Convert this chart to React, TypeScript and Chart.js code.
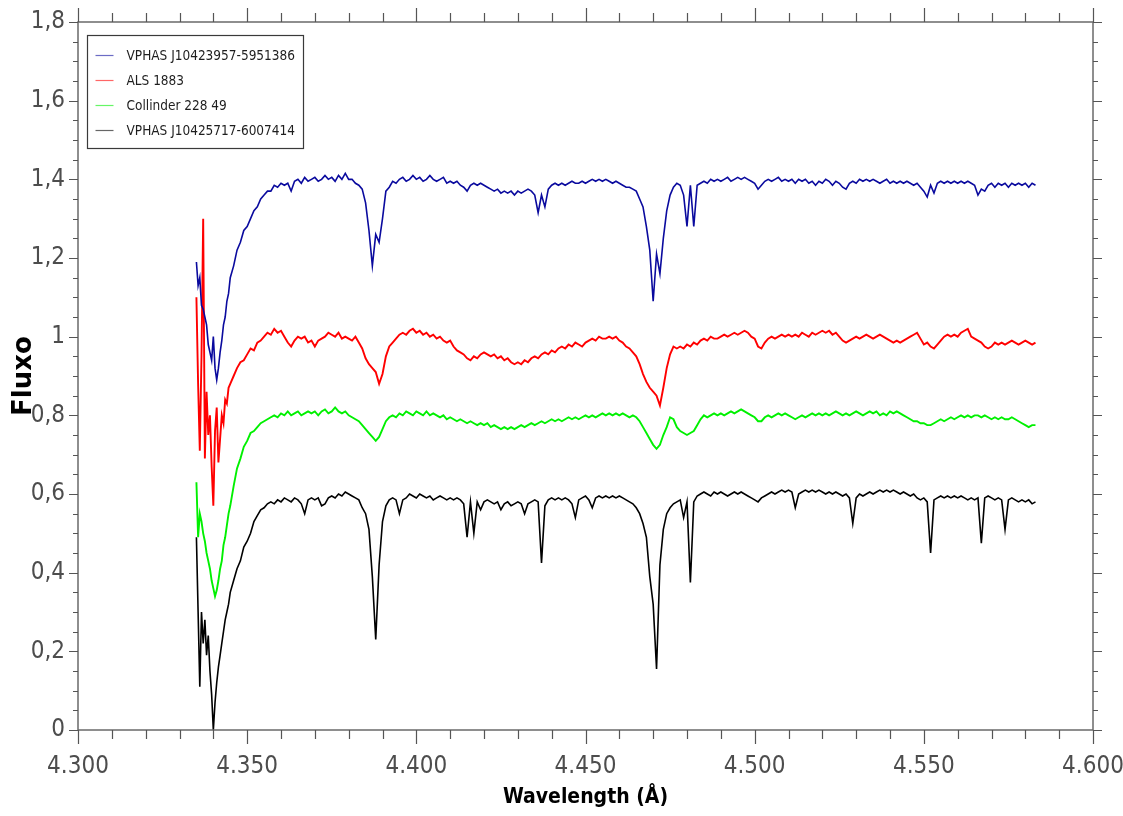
import React, { useEffect, useRef } from "react";
import { Chart, registerables } from "chart.js";

Chart.register(...registerables);

// Wavelength grid (Å): half-Å steps across the Hγ core, then 1 Å steps
const WAVELENGTHS = [
  4335, 4335.5, 4336, 4336.5, 4337, 4337.5, 4338, 4338.5, 4339, 4339.5, 4340, 4340.5, 4341, 4341.5, 4342, 4342.5, 4343, 4343.5, 4344, 4344.5, 4345,
  4346, 4347, 4348, 4349, 4350, 4351, 4352, 4353, 4354, 4355,
  4356, 4357, 4358, 4359, 4360, 4361, 4362, 4363, 4364, 4365,
  4366, 4367, 4368, 4369, 4370, 4371, 4372, 4373, 4374, 4375,
  4376, 4377, 4378, 4379, 4380, 4381, 4382, 4383, 4384, 4385,
  4386, 4387, 4388, 4389, 4390, 4391, 4392, 4393, 4394, 4395,
  4396, 4397, 4398, 4399, 4400, 4401, 4402, 4403, 4404, 4405,
  4406, 4407, 4408, 4409, 4410, 4411, 4412, 4413, 4414, 4415,
  4416, 4417, 4418, 4419, 4420, 4421, 4422, 4423, 4424, 4425,
  4426, 4427, 4428, 4429, 4430, 4431, 4432, 4433, 4434, 4435,
  4436, 4437, 4438, 4439, 4440, 4441, 4442, 4443, 4444, 4445,
  4446, 4447, 4448, 4449, 4450, 4451, 4452, 4453, 4454, 4455,
  4456, 4457, 4458, 4459, 4460, 4461, 4462, 4463, 4464, 4465,
  4466, 4467, 4468, 4469, 4470, 4471, 4472, 4473, 4474, 4475,
  4476, 4477, 4478, 4479, 4480, 4481, 4482, 4483, 4484, 4485,
  4486, 4487, 4488, 4489, 4490, 4491, 4492, 4493, 4494, 4495,
  4496, 4497, 4498, 4499, 4500, 4501, 4502, 4503, 4504, 4505,
  4506, 4507, 4508, 4509, 4510, 4511, 4512, 4513, 4514, 4515,
  4516, 4517, 4518, 4519, 4520, 4521, 4522, 4523, 4524, 4525,
  4526, 4527, 4528, 4529, 4530, 4531, 4532, 4533, 4534, 4535,
  4536, 4537, 4538, 4539, 4540, 4541, 4542, 4543, 4544, 4545,
  4546, 4547, 4548, 4549, 4550, 4551, 4552, 4553, 4554, 4555,
  4556, 4557, 4558, 4559, 4560, 4561, 4562, 4563, 4564, 4565,
  4566, 4567, 4568, 4569, 4570, 4571, 4572, 4573, 4574, 4575,
  4576, 4577, 4578, 4579, 4580, 4581, 4582, 4583,
];

const FLUX_VPHAS_5951386 = [
  1.19, 1.13, 1.15, 1.08, 1.07, 1.05, 1.03, 0.98, 0.96, 0.94, 1.0, 0.92, 0.89, 0.92, 0.96, 0.99, 1.03, 1.05, 1.09, 1.11, 1.15,
  1.18, 1.22, 1.24, 1.27, 1.28, 1.3, 1.32, 1.33, 1.35, 1.36,
  1.37, 1.37, 1.385, 1.38, 1.39, 1.385, 1.39, 1.37, 1.395, 1.4,
  1.39, 1.405, 1.395, 1.4, 1.405, 1.395, 1.4, 1.41, 1.4, 1.405,
  1.395, 1.41, 1.4, 1.415, 1.4, 1.4, 1.39, 1.385, 1.375, 1.34,
  1.27, 1.18, 1.26, 1.24, 1.3, 1.37, 1.38, 1.395, 1.39, 1.4,
  1.405, 1.395, 1.4, 1.41, 1.4, 1.405, 1.395, 1.4, 1.41, 1.4,
  1.395, 1.4, 1.405, 1.39, 1.395, 1.39, 1.395, 1.385, 1.38, 1.37,
  1.385, 1.39, 1.385, 1.39, 1.385, 1.38, 1.375, 1.37, 1.375, 1.365,
  1.37, 1.365, 1.37, 1.36, 1.37, 1.365, 1.37, 1.375, 1.37, 1.36,
  1.315, 1.36, 1.33, 1.375, 1.385, 1.39, 1.385, 1.39, 1.385, 1.39,
  1.395, 1.39, 1.39, 1.395, 1.39, 1.395, 1.4, 1.395, 1.4, 1.395,
  1.4, 1.395, 1.39, 1.395, 1.39, 1.385, 1.38, 1.38, 1.375, 1.37,
  1.35, 1.33, 1.28, 1.22, 1.09, 1.21, 1.16, 1.25, 1.32, 1.36,
  1.38, 1.39, 1.385, 1.36, 1.28, 1.385, 1.28, 1.385, 1.39, 1.395,
  1.39, 1.4, 1.395, 1.4, 1.395, 1.4, 1.405, 1.395, 1.4, 1.405,
  1.4, 1.405, 1.4, 1.395, 1.39, 1.375, 1.385, 1.395, 1.4, 1.395,
  1.4, 1.405, 1.395, 1.4, 1.395, 1.4, 1.39, 1.4, 1.395, 1.4,
  1.39, 1.395, 1.385, 1.395, 1.39, 1.4, 1.395, 1.385, 1.395, 1.39,
  1.38, 1.375, 1.39, 1.395, 1.39, 1.4, 1.395, 1.4, 1.395, 1.4,
  1.395, 1.39, 1.395, 1.4, 1.39, 1.395, 1.39, 1.395, 1.39, 1.395,
  1.39, 1.385, 1.39, 1.38, 1.37, 1.355, 1.385, 1.365, 1.39, 1.395,
  1.39, 1.395, 1.39, 1.395, 1.39, 1.395, 1.39, 1.395, 1.39, 1.385,
  1.36, 1.375, 1.37, 1.385, 1.39, 1.38, 1.39, 1.385, 1.39, 1.38,
  1.39, 1.385, 1.39, 1.385, 1.39, 1.38, 1.39, 1.385,
];

const FLUX_ALS_1883 = [
  1.1, 0.88, 0.71, 0.95, 1.3, 0.69, 0.86, 0.75, 0.8, 0.67, 0.57, 0.76, 0.82, 0.68, 0.74, 0.8, 0.78, 0.84, 0.83, 0.87, 0.88,
  0.9, 0.92, 0.935, 0.94, 0.955, 0.97, 0.965, 0.985, 0.99, 1.0,
  1.01, 1.005, 1.02, 1.01, 1.015, 1.0, 0.985, 0.975, 0.99, 1.0,
  0.995, 1.0, 0.985, 0.99, 0.975, 0.99, 0.995, 1.0, 1.01, 1.005,
  1.0, 1.01, 0.995, 1.0, 0.995, 0.99, 1.0, 0.985, 0.97, 0.945,
  0.93, 0.92, 0.91, 0.88, 0.905, 0.95, 0.975, 0.985, 0.995, 1.005,
  1.01, 1.005, 1.015, 1.02, 1.01, 1.015, 1.005, 1.01, 1.0, 1.005,
  0.995, 1.0, 0.99, 0.985, 0.99, 0.975, 0.965, 0.96, 0.955, 0.945,
  0.94, 0.95, 0.945, 0.955, 0.96, 0.955, 0.95, 0.955, 0.945, 0.95,
  0.94, 0.945, 0.935, 0.93, 0.935, 0.93, 0.94, 0.935, 0.945, 0.95,
  0.945, 0.955, 0.96, 0.955, 0.965, 0.96, 0.97, 0.975, 0.97, 0.98,
  0.975, 0.985, 0.98, 0.975, 0.985, 0.99, 0.995, 0.99, 1.0, 0.995,
  0.995, 1.0, 0.995, 1.0, 0.99, 0.985, 0.975, 0.97, 0.96, 0.95,
  0.93, 0.905, 0.885, 0.87, 0.86, 0.85, 0.825, 0.87, 0.92, 0.955,
  0.975, 0.97, 0.975, 0.97, 0.98, 0.975, 0.985, 0.98, 0.99, 0.995,
  0.99, 1.0, 0.995, 0.995, 1.0, 1.005, 1.0, 1.005, 1.01, 1.005,
  1.01, 1.015, 1.01, 1.0, 0.995, 0.975, 0.97, 0.985, 0.995, 1.0,
  0.995, 1.0, 1.005, 1.0, 1.005, 1.0, 1.005, 1.0, 1.01, 1.005,
  1.0, 1.01, 1.005, 1.01, 1.015, 1.01, 1.015, 1.005, 1.01, 1.0,
  0.99, 0.985, 0.99, 0.995, 1.0, 0.995, 1.0, 1.005, 1.0, 0.995,
  1.0, 1.005, 1.0, 0.995, 0.99, 0.985, 0.99, 0.985, 0.99, 0.995,
  1.0, 1.005, 1.01, 0.995, 0.98, 0.985, 0.975, 0.97, 0.98, 0.99,
  1.0, 1.005, 1.0, 1.005, 1.0, 1.01, 1.015, 1.02, 1.0, 0.995,
  0.99, 0.985, 0.975, 0.97, 0.975, 0.985, 0.98, 0.985, 0.98, 0.985,
  0.99, 0.985, 0.98, 0.985, 0.99, 0.985, 0.98, 0.985,
];

const FLUX_COLLINDER_228_49 = [
  0.63, 0.49, 0.55, 0.53, 0.5, 0.48, 0.45, 0.43, 0.41, 0.38, 0.36, 0.34, 0.355, 0.38, 0.41, 0.43, 0.47, 0.49, 0.52, 0.55, 0.57,
  0.62, 0.665, 0.69, 0.72, 0.735, 0.755, 0.76, 0.77, 0.78, 0.785,
  0.79, 0.795, 0.8, 0.795, 0.805, 0.8, 0.81, 0.8, 0.805, 0.81,
  0.8, 0.805, 0.81, 0.805, 0.81, 0.8, 0.81, 0.815, 0.805, 0.81,
  0.82, 0.81, 0.805, 0.81, 0.8, 0.795, 0.79, 0.785, 0.775, 0.765,
  0.755, 0.745, 0.735, 0.745, 0.765, 0.785, 0.795, 0.8, 0.795, 0.805,
  0.8, 0.81, 0.805, 0.8, 0.81, 0.805, 0.8, 0.81, 0.8, 0.805,
  0.8, 0.795, 0.8, 0.79, 0.795, 0.79, 0.785, 0.79, 0.785, 0.78,
  0.785, 0.78, 0.775, 0.78, 0.775, 0.78, 0.77, 0.775, 0.77, 0.765,
  0.77, 0.765, 0.77, 0.765, 0.77, 0.775, 0.77, 0.775, 0.78, 0.775,
  0.78, 0.785, 0.78, 0.785, 0.79, 0.785, 0.79, 0.785, 0.79, 0.795,
  0.79, 0.795, 0.79, 0.795, 0.8, 0.795, 0.8, 0.795, 0.8, 0.805,
  0.8, 0.805, 0.8, 0.805, 0.8, 0.805, 0.8, 0.795, 0.8, 0.795,
  0.785, 0.77, 0.755, 0.74, 0.725, 0.715, 0.725, 0.75, 0.77, 0.795,
  0.79, 0.77, 0.76, 0.755, 0.75, 0.755, 0.76, 0.775, 0.79, 0.8,
  0.795, 0.8, 0.805, 0.8, 0.805, 0.8, 0.805, 0.81, 0.805, 0.81,
  0.815, 0.81, 0.805, 0.8, 0.795, 0.785, 0.785, 0.795, 0.8, 0.795,
  0.8, 0.805, 0.8, 0.805, 0.8, 0.795, 0.79, 0.795, 0.8, 0.795,
  0.8, 0.805, 0.8, 0.805, 0.8, 0.805, 0.8, 0.805, 0.81, 0.805,
  0.8, 0.805, 0.8, 0.805, 0.81, 0.805, 0.8, 0.805, 0.81, 0.805,
  0.81, 0.8, 0.805, 0.8, 0.81, 0.805, 0.81, 0.805, 0.8, 0.795,
  0.79, 0.785, 0.785, 0.78, 0.78, 0.775, 0.775, 0.78, 0.785, 0.79,
  0.785, 0.79, 0.795, 0.79, 0.795, 0.8, 0.795, 0.8, 0.795, 0.8,
  0.8, 0.795, 0.8, 0.795, 0.79, 0.795, 0.79, 0.795, 0.79, 0.79,
  0.795, 0.79, 0.785, 0.78, 0.775, 0.77, 0.775, 0.775,
];

const FLUX_VPHAS_6007414 = [
  0.49, 0.3, 0.11, 0.3, 0.22, 0.28, 0.19, 0.24, 0.15, 0.09, 0.0, 0.07, 0.12, 0.16, 0.19, 0.22, 0.25, 0.28, 0.3, 0.32, 0.35,
  0.38, 0.41, 0.43, 0.465, 0.48, 0.5, 0.53, 0.545, 0.56, 0.565,
  0.575, 0.58, 0.575, 0.585, 0.58, 0.59, 0.585, 0.58, 0.59, 0.585,
  0.575, 0.55, 0.585, 0.59, 0.585, 0.59, 0.57, 0.575, 0.59, 0.595,
  0.59, 0.6, 0.595, 0.605, 0.6, 0.595, 0.59, 0.585, 0.565, 0.55,
  0.51, 0.39, 0.23, 0.42, 0.53, 0.57, 0.585, 0.59, 0.585, 0.55,
  0.585, 0.59, 0.6, 0.595, 0.59, 0.6, 0.595, 0.59, 0.595, 0.585,
  0.59, 0.595, 0.59, 0.585, 0.59, 0.585, 0.59, 0.585, 0.575, 0.49,
  0.58, 0.5, 0.58, 0.56, 0.58, 0.585, 0.58, 0.575, 0.58, 0.56,
  0.575, 0.58, 0.57, 0.575, 0.58, 0.575, 0.55, 0.575, 0.58, 0.585,
  0.58, 0.425, 0.57, 0.585, 0.59, 0.585, 0.59, 0.585, 0.59, 0.585,
  0.575, 0.54, 0.585, 0.59, 0.595, 0.585, 0.565, 0.59, 0.595, 0.59,
  0.595, 0.59, 0.595, 0.59, 0.595, 0.59, 0.585, 0.58, 0.575, 0.565,
  0.55, 0.525, 0.49, 0.39, 0.32, 0.155, 0.42, 0.51, 0.55, 0.565,
  0.575, 0.58, 0.585, 0.54, 0.58, 0.375, 0.58, 0.595, 0.6, 0.605,
  0.6, 0.595, 0.605, 0.6, 0.605, 0.6, 0.595, 0.6, 0.605, 0.6,
  0.605, 0.6, 0.595, 0.59, 0.585, 0.58, 0.59, 0.595, 0.6, 0.605,
  0.6, 0.605, 0.61, 0.605, 0.61, 0.605, 0.565, 0.6, 0.605, 0.61,
  0.605, 0.61, 0.605, 0.61, 0.605, 0.6, 0.605, 0.6, 0.605, 0.6,
  0.595, 0.6, 0.59, 0.525, 0.59, 0.6, 0.595, 0.6, 0.605, 0.6,
  0.605, 0.61, 0.605, 0.61, 0.605, 0.61, 0.605, 0.6, 0.605, 0.6,
  0.595, 0.6, 0.59, 0.585, 0.59, 0.58, 0.45, 0.585, 0.59, 0.595,
  0.59, 0.595, 0.59, 0.595, 0.59, 0.595, 0.59, 0.585, 0.59, 0.585,
  0.59, 0.475, 0.59, 0.595, 0.59, 0.585, 0.59, 0.585, 0.51, 0.585,
  0.59, 0.585, 0.58, 0.585, 0.58, 0.585, 0.575, 0.58,
];

const SERIES_LABELS = [
  "VPHAS J10423957-5951386",
  "ALS 1883",
  "Collinder 228 49",
  "VPHAS J10425717-6007414",
];
const SERIES_COLORS = ["#0a0a9e", "#ff0000", "#00f000", "#000000"];
const SERIES_WIDTHS = [1.6, 1.9, 1.9, 1.6];
const SERIES_VALUES = [
  FLUX_VPHAS_5951386,
  FLUX_ALS_1883,
  FLUX_COLLINDER_228_49,
  FLUX_VPHAS_6007414,
];

const X_MIN = 4300;
const X_MAX = 4600;
const Y_MIN = 0;
const Y_MAX = 1.8;

const NARROW = "'Liberation Sans Narrow', 'DejaVu Sans Condensed', 'Liberation Sans', Roboto, sans-serif";

const framePlugin = {
  id: "frameTicks",
  afterDraw(chart: any) {
    const { ctx, chartArea: a, scales } = chart;
    const xs = scales.x;
    const ys = scales.y;
    ctx.save();
    ctx.strokeStyle = "#6a6a6a";
    ctx.lineWidth = 1.5;
    ctx.strokeRect(a.left, a.top, a.right - a.left, a.bottom - a.top);
    ctx.lineWidth = 1.2;
    ctx.strokeStyle = "#555";
    ctx.beginPath();
    for (let v = X_MIN; v <= X_MAX; v += 10) {
      const px = Math.round(xs.getPixelForValue(v)) + 0.5;
      const major = v % 50 === 0;
      const len = major ? 14 : 9;
      ctx.moveTo(px, a.bottom);
      ctx.lineTo(px, a.bottom + len);
      ctx.moveTo(px, a.top);
      ctx.lineTo(px, a.top - len);
    }
    for (let i = 0; i <= 36; i++) {
      const v = i * 0.05;
      const py = Math.round(ys.getPixelForValue(v)) + 0.5;
      const major = i % 4 === 0;
      const len = major ? 9 : 5;
      ctx.moveTo(a.left, py);
      ctx.lineTo(a.left - len, py);
      ctx.moveTo(a.right, py);
      ctx.lineTo(a.right + len, py);
    }
    ctx.stroke();
    ctx.restore();
  },
};

const legendPlugin = {
  id: "insideLegend",
  afterDraw(chart: any) {
    const { ctx, chartArea: a } = chart;
    const x0 = Math.round(a.left + 9) + 0.5;
    const y0 = Math.round(a.top + 13) + 0.5;
    const w = 216;
    const h = 113;
    ctx.save();
    ctx.fillStyle = "#ffffff";
    ctx.fillRect(x0, y0, w, h);
    ctx.strokeStyle = "#3a3a3a";
    ctx.lineWidth = 1.2;
    ctx.strokeRect(x0, y0, w, h);
    chart.data.datasets.forEach((ds: any, i: number) => {
      const yy = Math.round(y0 + 19 + i * 25.3) + 0.5;
      ctx.globalAlpha = 0.6;
      ctx.strokeStyle = ds.borderColor;
      ctx.lineWidth = 1.2;
      ctx.beginPath();
      ctx.moveTo(x0 + 8, yy);
      ctx.lineTo(x0 + 26, yy);
      ctx.stroke();
      ctx.globalAlpha = 1;
      ctx.fillStyle = "#1e1e1e";
      ctx.font = `13.5px ${NARROW}`;
      ctx.textBaseline = "middle";
      ctx.textAlign = "left";
      ctx.fillText(ds.label, x0 + 39, yy + 1);
    });
    ctx.restore();
  },
};

function formatX(v: number): string {
  const th = Math.floor(v / 1000);
  const rest = String(Math.round(v % 1000)).padStart(3, "0");
  return `${th}.${rest}`;
}

function formatY(v: number): string {
  const r = Math.round(v * 10) / 10;
  return String(r).replace(".", ",");
}

export default function App() {
  const canvasRef = useRef<HTMLCanvasElement | null>(null);

  useEffect(() => {
    if (!canvasRef.current) return;
    const datasets = SERIES_VALUES.map((vals, si) => ({
      label: SERIES_LABELS[si],
      data: WAVELENGTHS.map((w, i) => ({ x: w, y: vals[i] })),
      borderColor: SERIES_COLORS[si],
      backgroundColor: SERIES_COLORS[si],
      borderWidth: SERIES_WIDTHS[si],
      pointRadius: 0,
      tension: 0,
      fill: false,
    }));

    const chart = new Chart(canvasRef.current, {
      type: "line",
      data: { datasets },
      plugins: [framePlugin, legendPlugin],
      options: {
        animation: false,
        responsive: true,
        maintainAspectRatio: false,
        devicePixelRatio: 1,
        layout: { padding: { top: 22, right: 30, left: 0, bottom: 0 } },
        plugins: {
          legend: { display: false },
          tooltip: { enabled: false },
        },
        scales: {
          x: {
            type: "linear",
            min: X_MIN,
            max: X_MAX,
            grid: { display: false, drawTicks: false, tickLength: 0 },
            border: { display: false },
            ticks: {
              stepSize: 50,
              padding: 22,
              autoSkip: false,
              maxRotation: 0,
              color: "#4d4d4d",
              font: { family: NARROW, size: 24 },
              callback: (v: any) => formatX(Number(v)),
            },
            title: {
              display: true,
              text: "Wavelength (Å)",
              color: "#000",
              font: { family: NARROW, size: 21, weight: "bold" },
              padding: { top: 0, bottom: 6 },
            },
            afterFit: (s: any) => {
              s.height = 86;
              s.paddingLeft = 0;
              s.paddingRight = 0;
            },
          },
          y: {
            type: "linear",
            min: Y_MIN,
            max: Y_MAX,
            grid: { display: false, drawTicks: false, tickLength: 0 },
            border: { display: false },
            ticks: {
              stepSize: 0.2,
              padding: 13,
              color: "#4d4d4d",
              font: { family: NARROW, size: 24 },
              callback: (v: any) => formatY(Number(v)),
            },
            title: {
              display: true,
              text: "Fluxo",
              color: "#000",
              font: { family: "'DejaVu Sans', Verdana, sans-serif", size: 26, weight: "bold" },
              padding: { top: 9, bottom: 0 },
            },
            afterFit: (s: any) => {
              s.width = 78;
              s.paddingTop = 0;
              s.paddingBottom = 0;
            },
          },
        },
      } as any,
    });
    return () => chart.destroy();
  }, []);

  return (
    <div
      style={{
        position: "fixed",
        left: 0,
        top: 0,
        width: 1123,
        height: 816,
        background: "#ffffff",
      }}
    >
      <canvas ref={canvasRef} />
    </div>
  );
}
